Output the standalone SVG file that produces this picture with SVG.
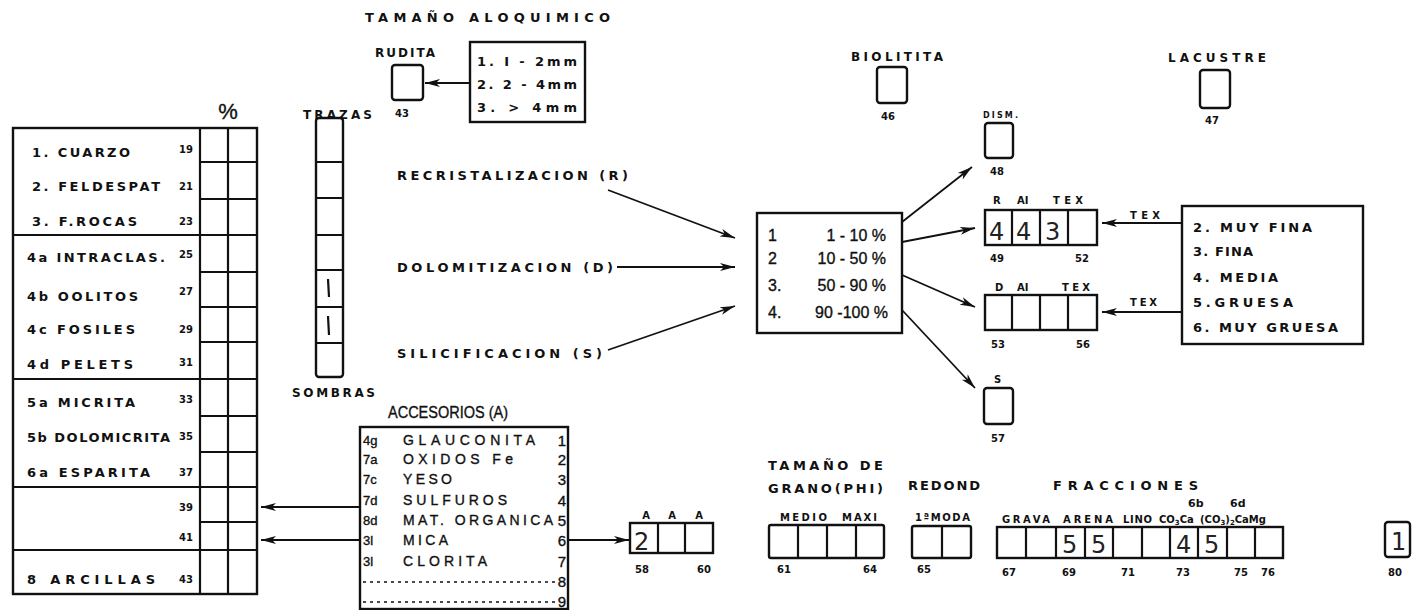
<svg xmlns="http://www.w3.org/2000/svg" width="1412" height="610" viewBox="0 0 1412 610">
<style>
.b{font-family:"DejaVu Sans","Liberation Sans",sans-serif;font-weight:bold;fill:#111}
.s12{font-size:13px}
.s10{font-size:12px}
.s9{font-size:11px}
.s8{font-size:10px}
.r{font-family:"Liberation Sans",Arial,sans-serif;font-weight:normal;fill:#111;stroke:#111;stroke-width:0.35}
.h{font-family:"DejaVu Sans",sans-serif;font-weight:normal;fill:#222;font-size:24px}
.box{fill:none;stroke:#111;stroke-width:2.4}
.ln{stroke:#111;stroke-width:2.2;fill:none}
.con{stroke:#111;stroke-width:1.8;fill:none}
.dot{stroke:#111;stroke-width:1.6;stroke-dasharray:3 4;fill:none}
</style>
<defs>
<marker id="ah" markerWidth="16" markerHeight="10" refX="15" refY="5" orient="auto" markerUnits="userSpaceOnUse">
<path d="M0,1 L15,5 L0,9 L4,5 z" fill="#111"/>
</marker>
</defs>
<rect width="1412" height="610" fill="#fff"/>

<g id="composition-table">
<text class="r" x="228" y="119" font-size="22" text-anchor="middle">%</text>
<rect class="box" x="13" y="128" width="244" height="466"/>
<path class="ln" d="M200,128V594M228,128V594M13,235H257M13,379H257M13,487H257M13,550H257M200,162H257M200,199H257M200,272H257M200,307H257M200,342H257M200,416H257M200,452H257M200,522H257"/>
<text class="b s12" x="32" y="157" textLength="98" lengthAdjust="spacing">1. CUARZO</text>
<text class="b s12" x="32" y="191" textLength="128" lengthAdjust="spacing">2. FELDESPAT</text>
<text class="b s12" x="32" y="226" textLength="105" lengthAdjust="spacing">3. F.ROCAS</text>
<text class="b s12" x="27" y="262" textLength="138" lengthAdjust="spacing">4a INTRACLAS.</text>
<text class="b s12" x="27" y="301" textLength="111" lengthAdjust="spacing">4b OOLITOS</text>
<text class="b s12" x="27" y="334" textLength="108" lengthAdjust="spacing">4c FOSILES</text>
<text class="b s12" x="27" y="369" textLength="106" lengthAdjust="spacing">4d PELETS</text>
<text class="b s12" x="27" y="407" textLength="108" lengthAdjust="spacing">5a MICRITA</text>
<text class="b s12" x="27" y="442" textLength="143" lengthAdjust="spacing">5b DOLOMICRITA</text>
<text class="b s12" x="27" y="477" textLength="123" lengthAdjust="spacing">6a ESPARITA</text>
<text class="b s12" x="27" y="584" textLength="128" lengthAdjust="spacing">8  ARCILLAS</text>
<g class="b s8" text-anchor="end">
<text x="193" y="153">19</text>
<text x="193" y="190">21</text>
<text x="193" y="225">23</text>
<text x="193" y="258">25</text>
<text x="193" y="295">27</text>
<text x="193" y="333">29</text>
<text x="193" y="366">31</text>
<text x="193" y="403">33</text>
<text x="193" y="440">35</text>
<text x="193" y="476">37</text>
<text x="193" y="511">39</text>
<text x="193" y="541">41</text>
<text x="193" y="583">43</text>
</g>
</g>

<g id="trazas">
<text class="b s10" x="303" y="119" textLength="69" lengthAdjust="spacing">TRAZAS</text>
<rect class="box" x="316" y="118" width="27" height="259" rx="3"/>
<path class="ln" d="M316,162H343M316,198H343M316,235H343M316,270H343M316,307H343M316,343H343"/>
<path class="ln" d="M328,279L329,297M328,316L329,335"/>
<text class="b s10" x="292" y="397" textLength="83" lengthAdjust="spacing">SOMBRAS</text>
</g>

<g id="tamano-aloquimico">
<text class="b s12" x="365" y="22" textLength="245" lengthAdjust="spacing">TAMAÑO  ALOQUIMICO</text>
<text class="b s10" x="375" y="57" textLength="60" lengthAdjust="spacing">RUDITA</text>
<rect class="box" x="392" y="65" width="31" height="35" rx="3"/>
<text class="b s8" x="395" y="117">43</text>
<rect class="box" x="470" y="42" width="115" height="80"/>
<text class="b s12" x="477" y="66" textLength="100" lengthAdjust="spacing">1.  I - 2mm</text>
<text class="b s12" x="477" y="89" textLength="100" lengthAdjust="spacing">2. 2 - 4mm</text>
<text class="b s12" x="477" y="112" textLength="100" lengthAdjust="spacing">3. &gt;  4mm</text>
</g>

<g id="procesos">
<text class="b s12" x="397" y="180" textLength="231" lengthAdjust="spacing">RECRISTALIZACION (R)</text>
<text class="b s12" x="397" y="272" textLength="216" lengthAdjust="spacing">DOLOMITIZACION (D)</text>
<text class="b s12" x="397" y="358" textLength="205" lengthAdjust="spacing">SILICIFICACION (S)</text>
</g>

<g id="porcentaje">
<rect class="box" x="757" y="213" width="145" height="120"/>
<g class="r" font-size="16">
<text x="768" y="241">1</text>
<text x="768" y="264">2</text>
<text x="768" y="291">3.</text>
<text x="768" y="318">4.</text>
<text x="886" y="241" text-anchor="end">1  -  10 %</text>
<text x="886" y="264" text-anchor="end">10 - 50 %</text>
<text x="886" y="291" text-anchor="end">50 - 90 %</text>
<text x="888" y="318" text-anchor="end">90 -100 %</text>
</g>
</g>

<g id="biolitita">
<text class="b s10" x="851" y="61" textLength="92" lengthAdjust="spacing">BIOLITITA</text>
<rect class="box" x="877" y="67" width="30" height="36" rx="3"/>
<text class="b s8" x="881" y="120">46</text>
</g>

<g id="lacustre">
<text class="b s10" x="1168" y="62" textLength="98" lengthAdjust="spacing">LACUSTRE</text>
<rect class="box" x="1200" y="70" width="30" height="38" rx="3"/>
<text class="b s8" x="1205" y="124">47</text>
</g>

<g id="dism">
<text class="b" font-size="8" x="983" y="118" textLength="35" lengthAdjust="spacing">DISM.</text>
<rect class="box" x="985" y="123" width="28" height="35" rx="3"/>
<text class="b s8" x="990" y="175">48</text>
</g>

<g id="recrist-box">
<text class="b s8" x="993" y="204">R</text>
<text class="b s8" x="1017" y="204">AI</text>
<text class="b s8" x="1053" y="204" textLength="30" lengthAdjust="spacing">TEX</text>
<rect class="box" x="985" y="210" width="112" height="35"/>
<path class="ln" d="M1012,210V245M1040,210V245M1068,210V245"/>
<text class="h" x="989" y="240">4</text>
<text class="h" x="1016" y="240">4</text>
<text class="h" x="1045" y="240">3</text>
<text class="b s8" x="990" y="262">49</text>
<text class="b s8" x="1075" y="262">52</text>
</g>

<g id="dolom-box">
<text class="b s8" x="995" y="291">D</text>
<text class="b s8" x="1017" y="291">AI</text>
<text class="b s8" x="1062" y="291" textLength="28" lengthAdjust="spacing">TEX</text>
<rect class="box" x="985" y="295" width="112" height="35"/>
<path class="ln" d="M1012,295V330M1040,295V330M1068,295V330"/>
<text class="b s8" x="991" y="348">53</text>
<text class="b s8" x="1076" y="348">56</text>
</g>

<g id="silic-box">
<text class="b s8" x="994" y="383">S</text>
<rect class="box" x="984" y="388" width="29" height="36" rx="3"/>
<text class="b s8" x="991" y="442">57</text>
</g>

<g id="textura">
<rect class="box" x="1182" y="206" width="181" height="138"/>
<text class="b s12" x="1193" y="232" textLength="119" lengthAdjust="spacing">2. MUY FINA</text>
<text class="b s12" x="1193" y="256" textLength="60" lengthAdjust="spacing">3. FINA</text>
<text class="b s12" x="1193" y="282" textLength="85" lengthAdjust="spacing">4. MEDIA</text>
<text class="b s12" x="1193" y="307" textLength="100" lengthAdjust="spacing">5.GRUESA</text>
<text class="b s12" x="1193" y="332" textLength="145" lengthAdjust="spacing">6. MUY GRUESA</text>
<text class="b s8" x="1130" y="219" textLength="30" lengthAdjust="spacing">TEX</text>
<text class="b s8" x="1130" y="306" textLength="27" lengthAdjust="spacing">TEX</text>
</g>

<g id="accesorios">
<text class="r" font-size="16" x="388" y="418" textLength="120" lengthAdjust="spacingAndGlyphs">ACCESORIOS (A)</text>
<rect class="box" x="360" y="427" width="208" height="182"/>
<g class="r" font-size="14">
<text x="363" y="445" font-size="13">4g</text>
<text x="363" y="464" font-size="13">7a</text>
<text x="363" y="484" font-size="13">7c</text>
<text x="363" y="505" font-size="13">7d</text>
<text x="363" y="525" font-size="13">8d</text>
<text x="363" y="545" font-size="13">3l</text>
<text x="363" y="566" font-size="13">3l</text>
<text x="403" y="445" textLength="132" lengthAdjust="spacing">GLAUCONITA</text>
<text x="403" y="464" textLength="110" lengthAdjust="spacing">OXIDOS Fe</text>
<text x="403" y="484" textLength="49" lengthAdjust="spacing">YESO</text>
<text x="403" y="505" textLength="104" lengthAdjust="spacing">SULFUROS</text>
<text x="403" y="525" textLength="150" lengthAdjust="spacing">MAT. ORGANICA</text>
<text x="403" y="545" textLength="45" lengthAdjust="spacing">MICA</text>
<text x="403" y="566" textLength="84" lengthAdjust="spacing">CLORITA</text>
<g text-anchor="end" font-size="15">
<text x="566" y="446">1</text>
<text x="566" y="465">2</text>
<text x="566" y="485">3</text>
<text x="566" y="506">4</text>
<text x="566" y="526">5</text>
<text x="566" y="546">6</text>
<text x="566" y="567">7</text>
<text x="566" y="587">8</text>
<text x="566" y="607">9</text>
</g>
</g>
<path class="dot" d="M363,582H556M363,602H556"/>
</g>

<g id="accesorios-box">
<text class="b s8" x="646" y="519" text-anchor="middle">A</text>
<text class="b s8" x="672" y="519" text-anchor="middle">A</text>
<text class="b s8" x="699" y="519" text-anchor="middle">A</text>
<rect class="box" x="630" y="523" width="83" height="30"/>
<path class="ln" d="M658,523V553M685,523V553"/>
<text class="h" x="634" y="550">2</text>
<text class="b s8" x="635" y="573">58</text>
<text class="b s8" x="697" y="573">60</text>
</g>

<g id="tamano-grano">
<text class="b s12" x="768" y="470" textLength="115" lengthAdjust="spacing">TAMAÑO DE</text>
<text class="b s12" x="768" y="493" textLength="115" lengthAdjust="spacing">GRANO(PHI)</text>
<text class="b s8" x="780" y="521" textLength="47" lengthAdjust="spacing">MEDIO</text>
<text class="b s8" x="842" y="521" textLength="35" lengthAdjust="spacing">MAXI</text>
<rect class="box" x="769" y="525" width="115" height="33" rx="2"/>
<path class="ln" d="M798,525V558M827,525V558M856,525V558"/>
<text class="b s8" x="777" y="573">61</text>
<text class="b s8" x="863" y="573">64</text>
</g>

<g id="redond">
<text class="b s12" x="908" y="490" textLength="72" lengthAdjust="spacing">REDOND</text>
<text class="b s8" x="915" y="521" textLength="55" lengthAdjust="spacing">1ªMODA</text>
<rect class="box" x="912" y="526" width="59" height="32" rx="2"/>
<path class="ln" d="M942,526V558"/>
<text class="b s8" x="917" y="573">65</text>
</g>

<g id="fracciones">
<text class="b s12" x="1053" y="490" textLength="145" lengthAdjust="spacing">FRACCIONES</text>
<text class="b s9" x="1188" y="507">6b</text>
<text class="b s9" x="1230" y="507">6d</text>
<text class="b s8" x="1002" y="523" textLength="48" lengthAdjust="spacing">GRAVA</text>
<text class="b s8" x="1063" y="523" textLength="50" lengthAdjust="spacing">ARENA</text>
<text class="b s8" x="1123" y="523" textLength="29" lengthAdjust="spacing">LINO</text>
<text class="b s8" x="1159" y="523">CO<tspan font-size="7" dy="2">3</tspan><tspan dy="-2">Ca</tspan></text>
<text class="b s8" x="1200" y="523">(CO<tspan font-size="7" dy="2">3</tspan><tspan dy="-2">)</tspan><tspan font-size="7" dy="2">2</tspan><tspan dy="-2">CaMg</tspan></text>
<rect class="box" x="997" y="527" width="286" height="31"/>
<path class="ln" d="M1026,527V558M1056,527V558M1085,527V558M1113,527V558M1142,527V558M1170,527V558M1198,527V558M1227,527V558M1255,527V558"/>
<text class="h" x="1062" y="553">5</text>
<text class="h" x="1091" y="553">5</text>
<text class="h" x="1176" y="553">4</text>
<text class="h" x="1204" y="553">5</text>
<g class="b s8">
<text x="1002" y="576">67</text>
<text x="1062" y="576">69</text>
<text x="1121" y="576">71</text>
<text x="1176" y="576">73</text>
<text x="1234" y="576">75</text>
<text x="1261" y="576">76</text>
</g>
</g>

<g id="box-80">
<rect class="box" x="1385" y="522" width="25" height="35" rx="3"/>
<text class="h" x="1391" y="550" font-size="20">1</text>
<text class="b s8" x="1388" y="576">80</text>
</g>

<g id="connectors">
<line class="con" x1="470" y1="83" x2="425" y2="83" marker-end="url(#ah)"/>
<line class="con" x1="608" y1="190" x2="735" y2="238" marker-end="url(#ah)"/>
<line class="con" x1="617" y1="267" x2="735" y2="267" marker-end="url(#ah)"/>
<line class="con" x1="608" y1="350" x2="735" y2="306" marker-end="url(#ah)"/>
<line class="con" x1="902" y1="222" x2="972" y2="167" marker-end="url(#ah)"/>
<line class="con" x1="902" y1="242" x2="975" y2="228" marker-end="url(#ah)"/>
<line class="con" x1="902" y1="275" x2="975" y2="307" marker-end="url(#ah)"/>
<line class="con" x1="902" y1="310" x2="975" y2="388" marker-end="url(#ah)"/>
<line class="con" x1="1182" y1="223" x2="1102" y2="223" marker-end="url(#ah)"/>
<line class="con" x1="1182" y1="312" x2="1102" y2="312" marker-end="url(#ah)"/>
<line class="con" x1="360" y1="507" x2="261" y2="507" marker-end="url(#ah)"/>
<line class="con" x1="360" y1="540" x2="261" y2="540" marker-end="url(#ah)"/>
<line class="con" x1="568" y1="540" x2="629" y2="540" marker-end="url(#ah)"/>
</g>
</svg>
